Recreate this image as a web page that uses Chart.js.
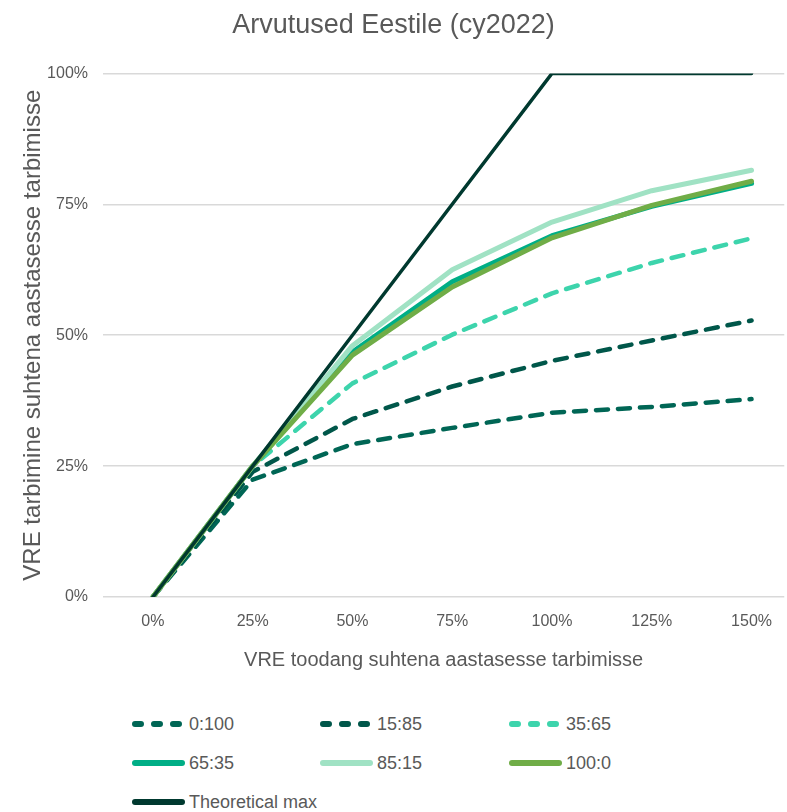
<!DOCTYPE html>
<html>
<head>
<meta charset="utf-8">
<script src="https://cdn.jsdelivr.net/npm/chart.js@4/dist/chart.umd.min.js"></script>
<style>
  body { margin: 0; background: #fff; font-family: 'Liberation Sans', Arial, sans-serif; }
  #wrap { position: relative; width: 787px; height: 812px; overflow: hidden; }
  #chartBox { position: absolute; left: 0; top: 0; width: 787px; height: 690px; }
  #legend { position: absolute; left: 132px; top: 713px; display: grid; grid-template-columns: 188px 189px 200px; row-gap: 17px; }
  .item { display: flex; align-items: center; height: 22px; color: #595959; font-size: 18px; }
  .item svg { margin-right: 3px; flex: none; }
</style>
</head>
<body>
<div id="wrap">
  <div id="chartBox"><canvas id="vre-chart"></canvas></div>
  <div id="legend"></div>
</div>
<script>
const share = [0, 25, 50, 75, 100, 125, 150];

const mix0_100  = [0, 22.4, 29.2, 32.3, 35.2, 36.3, 37.8];
const mix15_85  = [0, 23.9, 34.0, 40.2, 45.1, 49.0, 52.8];
const mix35_65  = [0, 25.0, 40.8, 50.1, 58.0, 63.8, 68.5];
const mix65_35  = [0, 25.0, 46.8, 60.2, 69.0, 74.6, 79.0];
const mix85_15  = [0, 25.0, 48.0, 62.5, 71.6, 77.6, 81.5];
const mix100_0  = [0, 25.0, 46.2, 59.2, 68.6, 74.8, 79.4];
const theoMax   = [0, 25.0, 50.0, 75.0, 100, 100, 100];

const textColor = '#595959';
const font = "'Liberation Sans', Arial, sans-serif";

function pts(values) {
  return values.map((v, i) => ({ x: share[i], y: v }));
}

const series = [
  { label: '0:100',  data: mix0_100, color: '#006655', dash: [12, 10], order: 6 },
  { label: '15:85',  data: mix15_85, color: '#00574A', dash: [12, 10], order: 5 },
  { label: '35:65',  data: mix35_65, color: '#3DD4AC', dash: [12, 10], order: 4 },
  { label: '65:35',  data: mix65_35, color: '#00AE86', dash: [], order: 3 },
  { label: '85:15',  data: mix85_15, color: '#A0E2C4', dash: [], order: 2 },
  { label: '100:0',  data: mix100_0, color: '#70AD47', dash: [], order: 1 },
  { label: 'Theoretical max', data: theoMax, color: '#00392F', dash: [], order: 0, width: 3.5 }
];

const ctx = document.getElementById('vre-chart').getContext('2d');
const vreChart = new Chart(ctx, {
  type: 'line',
  data: {
    datasets: series.map(s => ({
      label: s.label,
      data: pts(s.data),
      borderColor: s.color,
      backgroundColor: s.color,
      borderWidth: s.width || (s.dash.length ? 4.5 : 5),
      borderDash: s.dash,
      borderCapStyle: 'round',
      borderJoinStyle: 'round',
      pointRadius: 0,
      tension: 0,
      order: s.order
    }))
  },
  options: {
    responsive: true,
    maintainAspectRatio: false,
    animation: false,
    layout: { padding: 0 },
    plugins: {
      legend: { display: false },
      tooltip: { enabled: false },
      title: {
        display: true,
        text: 'Arvutused Eestile (cy2022)',
        color: textColor,
        font: { family: font, size: 27, weight: 'normal' },
        padding: { top: 9, bottom: 32 }
      }
    },
    scales: {
      x: {
        type: 'linear',
        min: -12.5,
        max: 158.2,
        afterBuildTicks: axis => { axis.ticks = share.map(v => ({ value: v })); },
        afterFit: axis => { axis.height = 93; },
        grid: { display: false, drawTicks: false },
        border: { display: false },
        ticks: {
          color: textColor,
          font: { family: font, size: 16 },
          padding: 15,
          maxRotation: 0,
          callback: v => v + '%'
        },
        title: {
          display: true,
          text: 'VRE toodang suhtena aastasesse tarbimisse',
          color: textColor,
          font: { family: font, size: 20 },
          padding: { top: 0, bottom: 18 }
        }
      },
      y: {
        min: 0,
        max: 100,
        afterFit: axis => { axis.width = 103; },
        ticks: {
          stepSize: 25,
          color: textColor,
          font: { family: font, size: 16 },
          padding: 15,
          callback: v => v + '%'
        },
        grid: { color: '#d9d9d9', lineWidth: 1.5, drawTicks: false },
        border: { display: false },
        title: {
          display: true,
          text: 'VRE tarbimine suhtena aastasesse tarbimisse',
          color: textColor,
          font: { family: font, size: 24 },
          padding: { top: 19, bottom: 0 }
        }
      }
    }
  }
});

// legend in three columns, built from the datasets
const legendEl = document.getElementById('legend');
series.forEach(s => {
  const item = document.createElement('div');
  item.className = 'item';
  const line = s.dash.length
    ? '<line x1="3" y1="5" x2="47" y2="5" stroke-dasharray="6 13"'
    : '<line x1="3" y1="5" x2="50" y2="5"';
  item.innerHTML =
    '<svg width="54" height="10">' + line + ' stroke="' + s.color +
    '" stroke-width="6" stroke-linecap="round"/></svg><span>' + s.label + '</span>';
  legendEl.appendChild(item);
});
</script>
</body>
</html>
